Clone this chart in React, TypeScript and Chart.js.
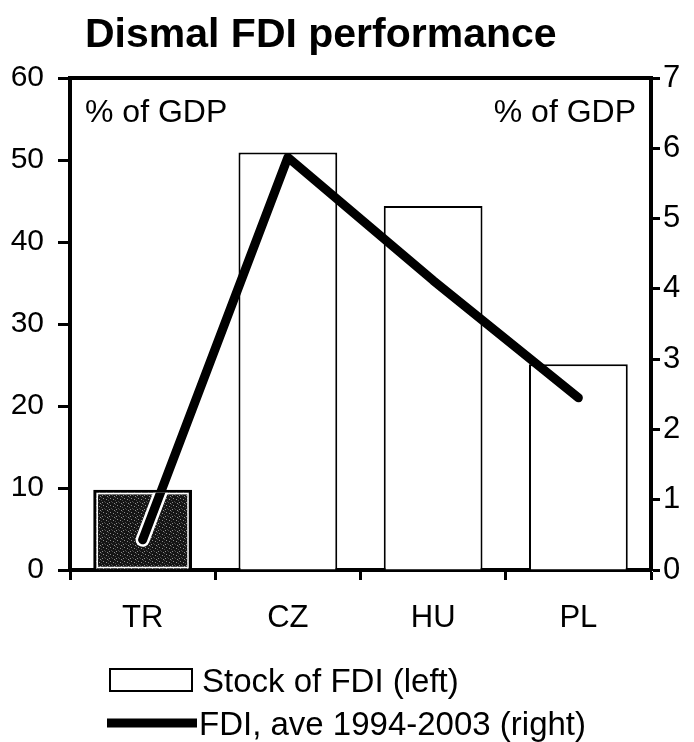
import React, { useEffect, useRef } from "react";
import { Chart, registerables } from "chart.js";

Chart.register(...registerables);

const categories = ["TR", "CZ", "HU", "PL"];
const stockFDI = [9.8, 50.9, 44.4, 25.1];
const fdiAverage = [0.43, 5.87, 4.12, 2.45];
const leftTicks = [0, 10, 20, 30, 40, 50, 60];
const rightTicks = [0, 1, 2, 3, 4, 5, 6, 7];
const titleText = "Dismal FDI performance";
const unitLabel = "% of GDP";
const legendLabels = ["Stock of FDI (left)", "FDI, ave 1994-2003 (right)"];

const FONT = "'Liberation Sans', Arial, Helvetica, sans-serif";

export default function App() {
  const ref = useRef<HTMLCanvasElement | null>(null);

  useEffect(() => {
    document.body.style.margin = "0";
    const canvas = ref.current!;
    const ctx = canvas.getContext("2d")!;

    const pc = document.createElement("canvas");
    pc.width = 7;
    pc.height = 7;
    const pctx = pc.getContext("2d")!;
    pctx.fillStyle = "#151515";
    pctx.fillRect(0, 0, 7, 7);
    pctx.fillStyle = "#8c8c8c";
    [[1, 2], [4, 5], [5, 1], [2, 6]].forEach(([x, y]) => pctx.fillRect(x, y, 1, 1));
    pctx.fillStyle = "#4a4a4a";
    [[3, 3], [0, 5], [6, 4], [3, 0]].forEach(([x, y]) => pctx.fillRect(x, y, 1, 1));
    const pattern = ctx.createPattern(pc, "repeat")!;

    const decor = {
      id: "decor",
      afterDatasetsDraw(chart: any) {
        const c = chart.ctx;
        const barMeta = chart.getDatasetMeta(0);
        const lineMeta = chart.getDatasetMeta(1);
        const bar = barMeta.data[0];
        const p0 = lineMeta.data[0];
        const p1 = lineMeta.data[1];
        const left = bar.x - bar.width / 2;
        const right = bar.x + bar.width / 2;
        const top = bar.y;
        const bottom = bar.base;
        c.save();
        c.strokeStyle = "#fff";
        c.lineWidth = 1.5;
        c.strokeRect(left + 4, top + 4, right - left - 8, bottom - top - 6);
        c.beginPath();
        c.rect(left + 3, top + 3, right - left - 6, bottom - top - 3);
        c.clip();
        c.lineCap = "round";
        c.lineJoin = "round";
        c.strokeStyle = "#fff";
        c.lineWidth = 14;
        c.beginPath();
        c.moveTo(p0.x, p0.y);
        c.lineTo(p1.x, p1.y);
        c.stroke();
        c.strokeStyle = "#000";
        c.lineWidth = 9;
        c.beginPath();
        c.moveTo(p0.x, p0.y);
        c.lineTo(p1.x, p1.y);
        c.stroke();
        c.restore();
      },
      afterDraw(chart: any) {
        const c = chart.ctx;
        const a = chart.chartArea;
        c.save();
        c.strokeStyle = "#000";
        c.lineWidth = 4;
        c.beginPath();
        c.moveTo(a.left - 2, a.top);
        c.lineTo(a.right + 2, a.top);
        c.stroke();

        c.fillStyle = "#000";
        c.textBaseline = "alphabetic";
        c.font = `bold 41px ${FONT}`;
        c.textAlign = "left";
        c.fillText(titleText, 85, 47);

        c.font = `32px ${FONT}`;
        c.fillText(unitLabel, a.left + 15, 122);
        c.textAlign = "right";
        c.fillText(unitLabel, a.right - 15, 122);

        c.textAlign = "left";
        c.font = `33px ${FONT}`;
        c.fillStyle = "#fff";
        c.fillRect(110, 669, 82, 22);
        c.strokeStyle = "#000";
        c.lineWidth = 2;
        c.strokeRect(110, 669, 82, 22);
        c.fillStyle = "#000";
        c.fillText(legendLabels[0], 202, 692);
        c.lineWidth = 9;
        c.lineCap = "butt";
        c.beginPath();
        c.moveTo(107, 723);
        c.lineTo(197, 723);
        c.stroke();
        c.fillText(legendLabels[1], 199, 735);
        c.restore();
      },
    };

    const tickFont = { family: FONT, size: 30 };

    const chart = new Chart(canvas, {
      type: "bar",
      data: {
        labels: categories,
        datasets: [
          {
            type: "bar",
            label: legendLabels[0],
            data: stockFDI,
            yAxisID: "y",
            backgroundColor: [pattern, "#fff", "#fff", "#fff"] as any,
            borderColor: "#000",
            borderWidth: [3, 2, 2, 2] as any,
            barPercentage: 0.68,
            categoryPercentage: 1,
            order: 1,
          },
          {
            type: "line",
            label: legendLabels[1],
            data: fdiAverage,
            yAxisID: "y1",
            borderColor: "#000",
            borderWidth: 9,
            borderCapStyle: "round",
            borderJoinStyle: "round",
            pointRadius: 0,
            tension: 0,
            fill: false,
            order: 0,
          },
        ] as any,
      },
      options: {
        animation: false,
        responsive: false,
        maintainAspectRatio: false,
        layout: { padding: { top: 78, left: 0, right: 0, bottom: 0 } },
        plugins: {
          legend: { display: false },
          tooltip: { enabled: false },
          title: { display: false },
        },
        scales: {
          x: {
            type: "category",
            offset: true,
            grid: {
              display: true,
              offset: true,
              drawOnChartArea: false,
              drawTicks: true,
              tickLength: 10,
              tickWidth: 3,
              tickColor: "#000",
            },
            border: { display: true, color: "#000", width: 4 },
            ticks: { font: { family: FONT, size: 31 }, color: "#000", padding: 20 },
            afterFit: (s: any) => {
              s.height = 172;
            },
          },
          y: {
            position: "left",
            min: 0,
            max: 60,
            afterBuildTicks: (s: any) => {
              s.ticks = leftTicks.map((v) => ({ value: v }));
            },
            ticks: { font: tickFont, color: "#000", padding: 14 },
            grid: {
              drawOnChartArea: false,
              drawTicks: true,
              tickLength: 12,
              tickWidth: 3,
              tickColor: "#000",
            },
            border: { display: true, color: "#000", width: 4 },
            afterFit: (s: any) => {
              s.width = 70;
            },
          },
          y1: {
            position: "right",
            min: 0,
            max: 7,
            afterBuildTicks: (s: any) => {
              s.ticks = rightTicks.map((v) => ({ value: v }));
            },
            ticks: { font: { family: FONT, size: 31 }, color: "#000", padding: 3 },
            grid: {
              drawOnChartArea: false,
              drawTicks: true,
              tickLength: 9,
              tickWidth: 3,
              tickColor: "#000",
            },
            border: { display: true, color: "#000", width: 4 },
            afterFit: (s: any) => {
              s.width = 43;
            },
          },
        },
      } as any,
      plugins: [decor],
    });

    return () => chart.destroy();
  }, []);

  return (
    <div style={{ width: 694, height: 742, overflow: "hidden", background: "#fff" }}>
      <canvas ref={ref} width={694} height={742} style={{ display: "block" }} />
    </div>
  );
}
